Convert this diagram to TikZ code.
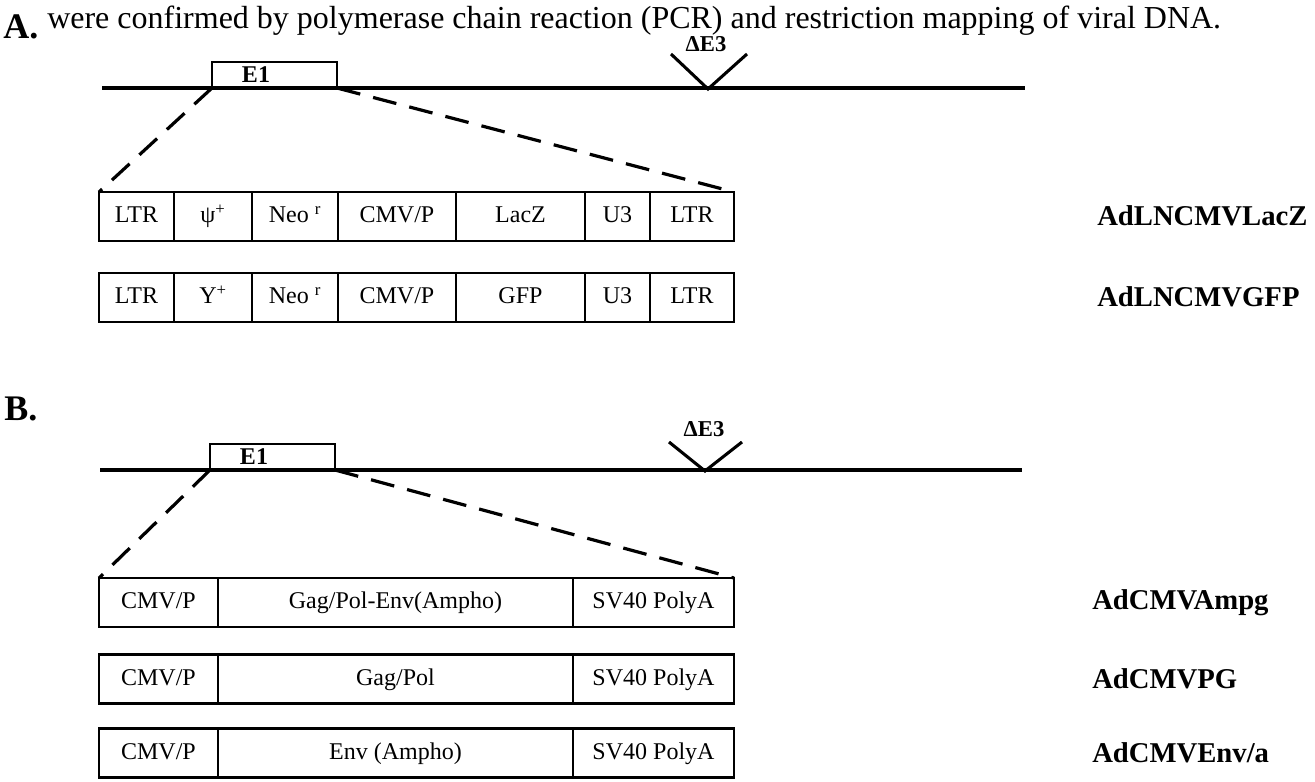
\documentclass[tikz,border=0pt]{standalone}
\usepackage{fontspec}
\setmainfont{Liberation Serif}
\newcommand\cellnode[5]{%
  \node[cell, minimum width={(#3-#2)*0.75pt}] (#1) at ({(#2+#3)/2},#4) {#5};}
\begin{document}
\begin{tikzpicture}[x=0.75pt,y=-0.75pt,
  cell/.style={draw, line width=1.9pt, inner sep=0pt, outer sep=0pt,
    minimum height=36.75pt, text height=13pt, text depth=4pt,
    font=\fontsize{18}{20}\selectfont},
  genome/.style={line width=2.3pt},
  e1box/.style={draw, line width=1.7pt, inner sep=0pt, outer sep=0pt,
    minimum width=93.75pt, minimum height=19.5pt},
  e1text/.style={font=\fontsize{18}{20}\selectfont\bfseries, inner sep=0pt},
  deltext/.style={font=\fontsize{17}{19}\selectfont\bfseries, inner sep=0pt},
  vmark/.style={line width=2.3pt},
  dashline/.style={line width=2.4pt, dash pattern=on 18pt off 10pt},
  vecname/.style={anchor=west, inner sep=0pt, font=\fontsize{21.5}{24}\selectfont\bfseries},
  panel/.style={anchor=base west, inner sep=0pt, font=\fontsize{27}{30}\selectfont\bfseries},
  caption/.style={anchor=base west, inner sep=0pt, font=\fontsize{24}{27}\selectfont}]
\useasboundingbox (0,0) rectangle (1315,782);
\fill[white] (0,0) rectangle (1315,782);

% ---------------- Panel A ----------------
\node[panel] (pA) at (3,38) {A.};
\node[caption] (capA) at (47,28) {were confirmed by polymerase chain reaction (PCR) and restriction mapping of viral DNA.};

\coordinate (la0) at (102,88);
\coordinate (la1) at (1025,88);
\draw[genome] (la0) -- (la1);
\node[e1box, anchor=south west] (e1a) at (212,88) {};
\node[e1text] (e1atxt) at (256,75) {E1};
\coordinate (va1) at (671,54);
\coordinate (va2) at (708,89);
\coordinate (va3) at (747,54);
\draw[vmark] (va1) -- (va2) -- (va3);
\node[deltext] (dea) at (706,44) {ΔE3};

\cellnode{a1}{99}{174}{216.5}{LTR}
\cellnode{a2}{174}{252}{216.5}{ψ\textsuperscript{+}}
\cellnode{a3}{252}{338}{216.5}{Neo \textsuperscript{r}}
\cellnode{a4}{338}{456}{216.5}{CMV/P}
\cellnode{a5}{456}{585}{216.5}{LacZ}
\cellnode{a6}{585}{650}{216.5}{U3}
\cellnode{a7}{650}{734}{216.5}{LTR}

\cellnode{b1}{99}{174}{297.5}{LTR}
\cellnode{b2}{174}{252}{297.5}{Y\textsuperscript{+}}
\cellnode{b3}{252}{338}{297.5}{Neo \textsuperscript{r}}
\cellnode{b4}{338}{456}{297.5}{CMV/P}
\cellnode{b5}{456}{585}{297.5}{GFP}
\cellnode{b6}{585}{650}{297.5}{U3}
\cellnode{b7}{650}{734}{297.5}{LTR}

\draw[dashline] (e1a.south west) -- (a1.north west);
\draw[dashline] (e1a.south east) -- (a7.north east);

\node[vecname] (nA1) at (1097,216) {AdLNCMVLacZ};
\node[vecname] (nA2) at (1097,297) {AdLNCMVGFP};

% ---------------- Panel B ----------------
\node[panel] (pB) at (4,420) {B.};

\coordinate (lb0) at (100,470);
\coordinate (lb1) at (1022,470);
\draw[genome] (lb0) -- (lb1);
\node[e1box, anchor=south west] (e1b) at (210,470) {};
\node[e1text] (e1btxt) at (254,457) {E1};
\coordinate (vb1) at (669,442);
\coordinate (vb2) at (705,471);
\coordinate (vb3) at (742,442);
\draw[vmark] (vb1) -- (vb2) -- (vb3);
\node[deltext] (deb) at (704,429) {ΔE3};

\cellnode{c1}{99}{218}{602.5}{CMV/P}
\cellnode{c2}{218}{573}{602.5}{Gag/Pol-Env(Ampho)}
\cellnode{c3}{573}{734}{602.5}{SV40 PolyA}

\cellnode{d1}{99}{218}{679}{CMV/P}
\cellnode{d2}{218}{573}{679}{Gag/Pol}
\cellnode{d3}{573}{734}{679}{SV40 PolyA}

\cellnode{f1}{99}{218}{753}{CMV/P}
\cellnode{f2}{218}{573}{753}{Env (Ampho)}
\cellnode{f3}{573}{734}{753}{SV40 PolyA}

\draw[dashline] (e1b.south west) -- (c1.north west);
\draw[dashline] (e1b.south east) -- (c3.north east);

\node[vecname] (nB1) at (1092,603) {AdCMVAmpg};
\node[vecname] (nB2) at (1092,679) {AdCMVPG};
\node[vecname] (nB3) at (1092,753) {AdCMVEnv/a};
\end{tikzpicture}
\end{document}
